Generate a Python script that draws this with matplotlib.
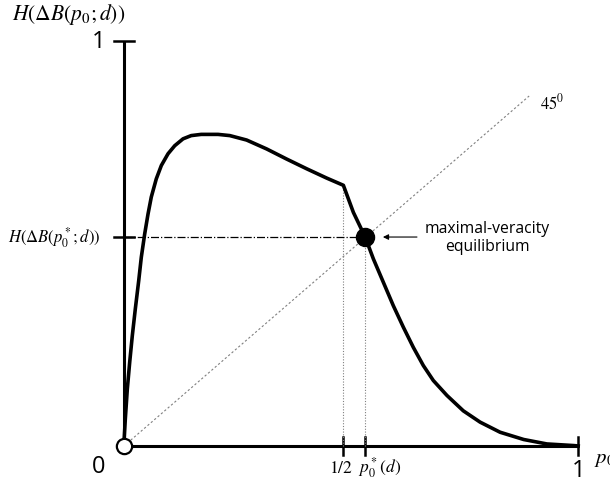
import matplotlib.pyplot as plt

plt.rcParams['mathtext.fontset'] = 'stix'

# curve points (p0, H)
p0 = [0.0, 0.0, 0.0029, 0.0073, 0.0126, 0.0183, 0.0249, 0.0324, 0.0381, 0.0456,
      0.0529, 0.0601, 0.0711, 0.0822, 0.0969, 0.1117, 0.130, 0.148, 0.170, 0.189,
      0.207, 0.233, 0.270, 0.314, 0.358, 0.402, 0.446, 0.483,
      0.505, 0.531, 0.549, 0.571, 0.593, 0.615, 0.637, 0.659, 0.681, 0.711,
      0.747, 0.784, 0.828, 0.880, 0.931, 0.990, 1.0]
H = [0.0, 0.0099, 0.0668, 0.141, 0.208, 0.273, 0.339, 0.409, 0.467, 0.525,
     0.574, 0.616, 0.661, 0.694, 0.723, 0.743, 0.760, 0.768, 0.771, 0.771,
     0.771, 0.768, 0.757, 0.735, 0.710, 0.686, 0.663, 0.645,
     0.578, 0.517, 0.463, 0.405, 0.347, 0.294, 0.244, 0.199, 0.162, 0.125,
     0.087, 0.059, 0.034, 0.016, 0.005, 0.001, 0.0]

half = 0.483
p_star = 0.531
h_star = 0.517
diag_end = [0.892, 0.866]

fig = plt.figure(figsize=(6.1, 4.89), dpi=100)
ax = fig.add_axes([0, 0, 1, 1])
ax.set_xlim(-0.273, 1.070)
ax.set_ylim(-0.104, 1.106)
ax.axis('off')

# axes
ax.plot([0, 1], [0, 0], color='black', lw=2.2, solid_capstyle='butt')
ax.plot([0, 0], [0, 1.002], color='black', lw=2.2, solid_capstyle='butt')
tk = 0.022
ax.plot([-tk, tk], [1.002, 1.002], color='black', lw=1.8)
ax.plot([-tk, tk], [h_star, h_star], color='black', lw=1.8)
for xv in [half, p_star, 1.0]:
    ax.plot([xv, xv], [-tk, tk], color='black', lw=1.8)

# guide lines
ax.plot([0, diag_end[0]], [0, diag_end[1]], color='gray', lw=0.8, ls=(0, (2, 2)))
ax.plot([half, half], [0, 0.645], color='gray', lw=0.8, ls=(0, (1, 1.5)))
ax.plot([p_star, p_star], [0, h_star], color='gray', lw=0.8, ls=(0, (1, 1.5)))
ax.plot([0, p_star], [h_star, h_star], color='black', lw=0.9, ls='-.')

# main curve
ax.plot(p0, H, color='black', lw=2.6, solid_joinstyle='round')

# points
ax.plot([0], [0], 'o', ms=11, mfc='white', mec='black', mew=1.6, zorder=5)
ax.plot([p_star], [h_star], 'o', ms=13, color='black', zorder=5)

# labels
ax.text(-0.247, 1.07, r'$H(\Delta B(p_0;d))$', fontsize=15.5, va='center', ha='left')
ax.text(-0.055, 1.002, '1', fontsize=17, family='Open Sans', va='center', ha='center')
ax.text(-0.055, -0.05, '0', fontsize=17, family='Open Sans', va='center', ha='center')
ax.text(1.0, -0.06, '1', fontsize=17, family='Open Sans', va='center', ha='center')
ax.text(1.035, -0.03, r'$p_0$', fontsize=15, va='center', ha='left')
ax.text(half - 0.005, -0.052, r'$1/2$', fontsize=12.5, va='center', ha='center')
ax.text(p_star - 0.015, -0.052, r'$p_0^*(d)$', fontsize=12.5, va='center', ha='left')
ax.text(-0.052, h_star, r'$H(\Delta B(p_0^*;d))$', fontsize=12, va='center', ha='right')
ax.text(0.915, 0.85, r'$45^0$', fontsize=12, va='center', ha='left')
ax.text(0.80, h_star, 'maximal-veracity\nequilibrium', fontsize=11.3,
        family='Open Sans', va='center', ha='center', linespacing=1.2)
ax.annotate('', xy=(0.570, h_star), xytext=(0.645, h_star),
            arrowprops=dict(arrowstyle='-|>', color='black', lw=0.8,
                            mutation_scale=8, shrinkA=0, shrinkB=0))

fig.savefig('out.png', dpi=100)
